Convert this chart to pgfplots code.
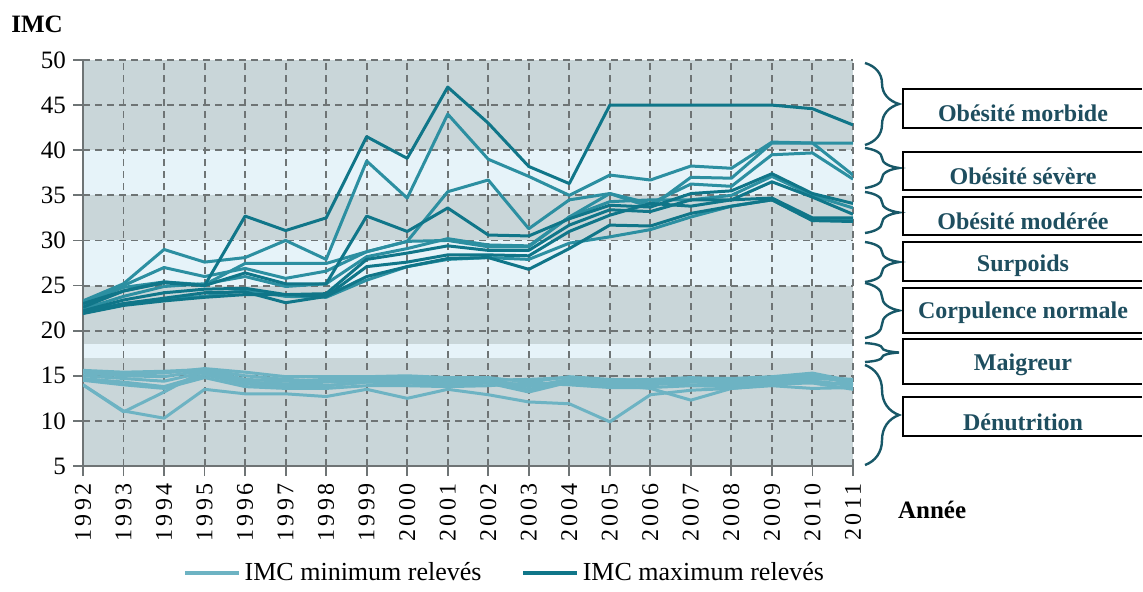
\documentclass[border=0pt]{standalone}
\usepackage{fontspec}
\setmainfont{Liberation Serif}
\usepackage{pgfplots}
\usepackage{pgfplotstable}
\pgfplotsset{compat=1.18}
\usetikzlibrary{decorations.pathreplacing}
\definecolor{banddark}{RGB}{201,214,217}
\definecolor{bandlight}{RGB}{230,243,249}
\definecolor{gridc}{RGB}{110,116,117}
\definecolor{maxdark}{RGB}{16,118,137}
\definecolor{maxmid}{RGB}{44,143,161}
\definecolor{minc}{RGB}{109,179,195}
\definecolor{bracec}{RGB}{24,88,104}
\definecolor{labc}{RGB}{30,78,95}

\pgfplotstableread{
yr a b c d e f g h i j
1992 23.0 23.3 22.8 22.6 22.4 22.2 22.0 21.9 22.1 23.1
1993 24.4 25.2 25.0 24.4 23.8 23.4 23.0 22.8 23.0 24.8
1994 25.3 29.0 27.0 25.4 24.9 24.2 23.6 23.3 23.5 25.4
1995 25.0 27.6 26.0 25.0 25.2 24.6 24.2 23.7 23.8 25.1
1996 32.7 28.1 26.9 26.4 26.0 24.7 24.3 24.0 24.5 27.45
1997 31.1 30.0 25.8 25.2 24.9 24.0 23.1 24.0 23.8 27.45
1998 32.5 27.9 26.6 25.2 25.2 24.1 23.8 23.8 23.7 27.45
1999 41.5 38.8 28.75 32.7 28.2 27.9 27.1 26.0 25.6 28.75
2000 39.1 34.7 29.9 31.0 29.1 28.6 27.6 27.1 27.1 29.9
2001 47.0 44.0 35.4 33.6 30.2 29.4 28.4 28.0 27.9 30.0
2002 43.0 39.0 36.7 30.6 29.5 28.9 28.4 28.1 28.1 29.3
2003 38.2 37.1 31.3 30.5 29.4 28.9 28.3 26.8 27.9 29.3
2004 36.3 35.0 34.5 32.4 32.6 31.7 31.0 29.1 29.7 32.6
2005 45.0 37.25 35.2 33.9 34.3 33.4 32.8 31.7 30.4 35.2
2006 45.0 36.7 34.1 33.7 34.5 33.2 34.1 31.6 31.2 33.7
2007 45.0 38.25 36.25 35.2 34.5 34.5 33.8 33.0 32.6 37.0
2008 45.0 38.0 36.0 35.5 35.0 34.5 34.5 33.8 33.8 36.9
2009 45.0 40.9 39.5 37.4 37.1 36.5 34.7 34.5 34.5 40.8
2010 44.6 40.8 39.7 35.2 35.0 34.8 32.5 32.2 32.2 40.8
2011 42.8 40.8 36.8 34.1 33.6 32.9 32.5 32.1 32.4 37.25
}\maxdata

\pgfplotstableread{
yr p q r s t u v w
1992 14.0 14.0 15.5 15.3 15.0 14.7 15.6 14.5
1993 11.1 11.0 15.2 15.0 14.7 14.3 15.4 14.0
1994 10.3 13.2 15.3 14.9 14.4 13.8 15.5 13.6
1995 13.5 15.6 15.8 15.6 15.4 15.1 15.7 14.8
1996 13.0 14.3 15.4 14.6 14.3 14.1 15.0 13.8
1997 13.0 14.0 14.9 14.4 14.1 13.8 14.6 13.6
1998 12.7 13.9 14.9 14.6 14.3 13.9 14.4 13.6
1999 13.5 14.3 14.9 14.7 14.5 14.3 14.8 13.9
2000 12.5 14.2 15.0 14.8 14.5 14.2 14.6 13.9
2001 13.5 14.5 14.8 14.5 14.2 14.0 14.3 13.8
2002 12.9 14.2 14.8 14.6 14.4 14.2 14.5 13.9
2003 12.1 13.2 14.3 13.8 13.5 14.0 14.6 14.2
2004 11.9 14.3 14.9 14.6 14.4 14.2 14.8 14.0
2005 9.9 14.0 14.6 14.3 14.2 13.8 14.5 13.7
2006 12.9 13.6 14.5 14.3 14.0 14.2 14.6 13.7
2007 13.4 12.3 14.7 14.5 14.3 14.0 14.8 13.9
2008 13.6 13.6 14.7 14.4 14.2 14.0 14.6 13.8
2009 13.9 14.0 14.9 14.6 14.5 14.3 14.7 14.1
2010 13.6 14.4 15.3 15.1 14.7 14.4 14.9 14.2
2011 13.7 14.0 14.4 14.1 14.5 13.9 14.6 13.5
}\mindata

\begin{document}
\begin{tikzpicture}
\begin{axis}[
  name=ax, at={(0,0)}, anchor=south west,
  set layers,
  scale only axis, width=385pt, height=203pt,
  xmin=1992, xmax=2011, ymin=5, ymax=50,
  xtick={1992,...,2011}, ytick={5,10,...,50},
  grid=major,
  grid style={gridc, dash pattern=on 3.5pt off 2.5pt, line width=0.95pt},
  axis lines*=left,
  axis line style={gridc, line width=0.9pt},
  tick style={gridc, line width=0.9pt},
  tick align=outside, major tick length=5pt,
  /pgf/number format/assume math mode=true,
  /pgf/number format/1000 sep={},
  ticklabel style={font=\fontsize{12.5}{14}\selectfont, text=black},
  xticklabel style={rotate=90, anchor=east, font=\fontsize{12}{14}\selectfont\addfontfeatures{LetterSpace=15}},
  legend style={at={(0.549,-0.2635)}, anchor=center, draw=none, fill=none,
    legend columns=2, font=\fontsize{13}{15}\selectfont,
    /tikz/every even column/.append style={column sep=18pt}},
  legend image code/.code={\draw[#1, line width=1.6pt] (0pt,0pt) -- (27pt,0pt);},
  every axis plot/.append style={line width=1.5pt, line join=round},
]
\addplot[fill=banddark, draw=none, line width=0pt, on layer=axis background, forget plot] coordinates {(1992,5) (2011,5) (2011,17) (1992,17)} -- cycle;
\addplot[fill=bandlight, draw=none, line width=0pt, on layer=axis background, forget plot] coordinates {(1992,17) (2011,17) (2011,18.5) (1992,18.5)} -- cycle;
\addplot[fill=banddark, draw=none, line width=0pt, on layer=axis background, forget plot] coordinates {(1992,18.5) (2011,18.5) (2011,25) (1992,25)} -- cycle;
\addplot[fill=bandlight, draw=none, line width=0pt, on layer=axis background, forget plot] coordinates {(1992,25) (2011,25) (2011,30) (1992,30)} -- cycle;
\addplot[fill=banddark, draw=none, line width=0pt, on layer=axis background, forget plot] coordinates {(1992,30) (2011,30) (2011,35) (1992,35)} -- cycle;
\addplot[fill=bandlight, draw=none, line width=0pt, on layer=axis background, forget plot] coordinates {(1992,35) (2011,35) (2011,40) (1992,40)} -- cycle;
\addplot[fill=banddark, draw=none, line width=0pt, on layer=axis background, forget plot] coordinates {(1992,40) (2011,40) (2011,50) (1992,50)} -- cycle;
\addlegendimage{minc}
\addlegendentry{IMC minimum relevés}
\addlegendimage{maxdark}
\addlegendentry{IMC maximum relevés}
\addplot[minc, forget plot] table[x=yr,y=p]{\mindata};
\addplot[minc, forget plot] table[x=yr,y=q]{\mindata};
\addplot[minc, forget plot] table[x=yr,y=r]{\mindata};
\addplot[minc, forget plot] table[x=yr,y=s]{\mindata};
\addplot[minc, forget plot] table[x=yr,y=t]{\mindata};
\addplot[minc, forget plot] table[x=yr,y=u]{\mindata};
\addplot[minc, forget plot] table[x=yr,y=v]{\mindata};
\addplot[minc, forget plot] table[x=yr,y=w]{\mindata};
\addplot[maxmid, forget plot] table[x=yr,y=b]{\maxdata};
\addplot[maxmid, forget plot] table[x=yr,y=c]{\maxdata};
\addplot[maxmid, forget plot] table[x=yr,y=e]{\maxdata};
\addplot[maxmid, forget plot] table[x=yr,y=i]{\maxdata};
\addplot[maxmid, forget plot] table[x=yr,y=j]{\maxdata};
\addplot[maxdark, forget plot] table[x=yr,y=a]{\maxdata};
\addplot[maxdark, forget plot] table[x=yr,y=d]{\maxdata};
\addplot[maxdark, forget plot] table[x=yr,y=f]{\maxdata};
\addplot[maxdark, forget plot] table[x=yr,y=g]{\maxdata};
\addplot[maxdark, forget plot] table[x=yr,y=h]{\maxdata};
\end{axis}
\node[font=\bfseries\fontsize{12.5}{14}\selectfont] at (-23pt,221pt) {IMC};
\node[font=\bfseries\fontsize{12.5}{14}\selectfont, anchor=west] at (404pt,-22pt) {Année};
\begin{scope}[bracec, line width=1.2pt, decoration={brace, amplitude=17pt}]
\draw[decorate] (391pt,201.5pt) -- (391pt,160.5pt);
\draw[decorate] (391pt,159pt) -- (391pt,139pt);
\draw[decorate] (391pt,137pt) -- (391pt,116.5pt);
\draw[decorate] (391pt,112pt) -- (391pt,92pt);
\draw[decorate] (391pt,91.5pt) -- (391pt,64pt);
\draw[decorate] (391pt,61.5pt) -- (391pt,52pt);
\draw[decorate] (391pt,50.5pt) -- (391pt,0.5pt);
\end{scope}
\begin{scope}[line width=1pt]
\draw (529.5pt,188.5pt) -- (410pt,188.5pt) -- (410pt,169pt) -- (529.5pt,169pt);
\draw (529.5pt,157pt) -- (410pt,157pt) -- (410pt,138pt) -- (529.5pt,138pt);
\draw (529.5pt,134.5pt) -- (410pt,134.5pt) -- (410pt,115.5pt) -- (529.5pt,115.5pt);
\draw (529.5pt,112pt) -- (410pt,112pt) -- (410pt,92.5pt) -- (529.5pt,92.5pt);
\draw (529.5pt,89pt) -- (410pt,89pt) -- (410pt,66.5pt) -- (529.5pt,66.5pt);
\draw (529.5pt,63.5pt) -- (410pt,63.5pt) -- (410pt,41pt) -- (529.5pt,41pt);
\draw (529.5pt,34.5pt) -- (410pt,34.5pt) -- (410pt,15pt) -- (529.5pt,15pt);
\end{scope}
\begin{scope}[font=\bfseries\fontsize{12}{14}\selectfont, text=labc]
\node at (470pt,176.5pt) {Obésité morbide};
\node at (470pt,145pt) {Obésité sévère};
\node at (470pt,122.5pt) {Obésité modérée};
\node at (470pt,100pt) {Surpoids};
\node at (470pt,76.5pt) {Corpulence normale};
\node at (470pt,50.5pt) {Maigreur};
\node at (470pt,22pt) {Dénutrition};
\end{scope}
\useasboundingbox (-41.5pt,-59.5pt) rectangle (530pt,233pt);
\end{tikzpicture}
\end{document}
